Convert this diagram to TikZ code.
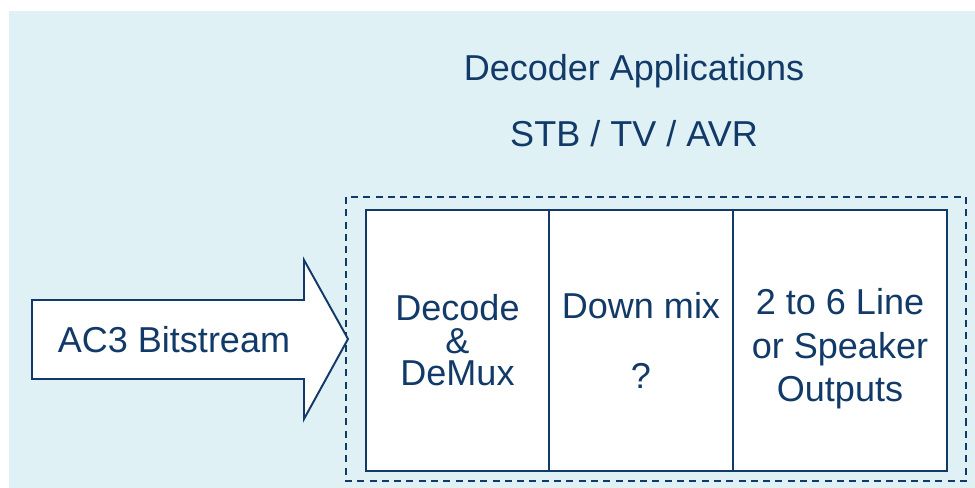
\documentclass[tikz,border=0pt]{standalone}
\usepackage{fontspec}
\setmainfont{Liberation Sans}
\usepackage{tikz}
\usetikzlibrary{calc,positioning,fit}

\definecolor{bgblue}{RGB}{224,241,246}
\definecolor{navy}{RGB}{18,58,104}

\tikzset{
	blk/.style={shape=rectangle,draw=navy,fill=white,line width=1.1pt,minimum height=5.22cm,outer sep=0pt,inner sep=0pt,align=center,text=navy},
	txt/.style={text=navy,font=\fontsize{20.5}{24.7}\selectfont}
}

\begin{document}
\begin{tikzpicture}
		\useasboundingbox (0,0) rectangle (19.5,9.76);
		\fill[bgblue] (0.18,0) rectangle (19.5,9.54);
		\begin{scope}
			\node(title) [txt,anchor=base] at (12.68,8.14) {Decoder Applications};
			\node(apps) [txt,anchor=base] at (12.68,6.82) {STB / TV / AVR};
			\node(decode) [blk,minimum width=3.66cm,anchor=south west,font=\fontsize{20.5}{18.5}\selectfont] at (7.32,0.34) {Decode\\\&\\DeMux};
			\node(mix) [blk,minimum width=3.68cm,right=0 of decode,font=\fontsize{20.5}{24.7}\selectfont] {Down mix\\[0.55cm]?};
			\node(out) [blk,minimum width=4.28cm,right=0 of mix,font=\fontsize{20.5}{24.7}\selectfont] {\raisebox{-0.18cm}[\height][\depth]{\begin{tabular}{@{}c@{}}2 to 6 Line\\or Speaker\\Outputs\end{tabular}}};
			\draw[navy,dashed,line width=1.1pt,dash pattern=on 4pt off 3pt] ($(decode.north west)+(-0.4,0.26)$) rectangle ($(out.south east)+(0.38,-0.2)$);
			% input arrow
			\coordinate (tip) at (6.96,2.98);
			\draw[navy,fill=white,line width=1.1pt] (tip) -- ++(-0.88,1.58) -- ++(0,-0.8) -- (0.64,3.76) -- (0.64,2.18) -- (6.08,2.18) -- ++(0,-0.8) -- cycle;
			\node(bits) [txt,anchor=base] at (3.48,2.7) {AC3 Bitstream};
		\end{scope}
	\end{tikzpicture}
\end{document}
